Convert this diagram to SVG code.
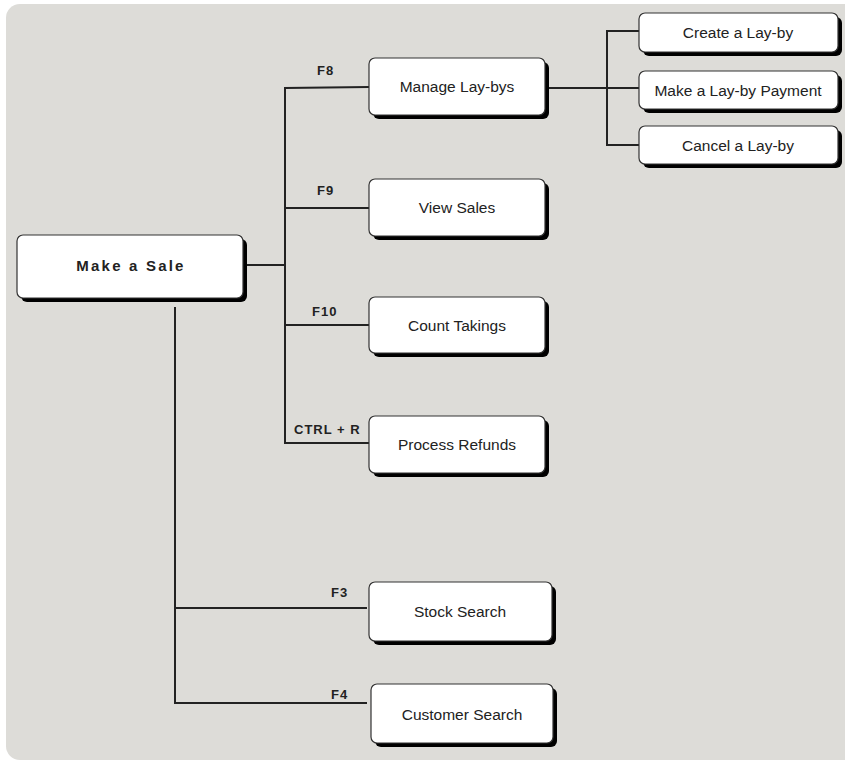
<svg xmlns="http://www.w3.org/2000/svg" width="845" height="761" viewBox="0 0 845 761">
<style>
.bx{fill:#fff;stroke:#333;stroke-width:1.2}
.sh{fill:#000}
.t{font-family:"Liberation Sans",Arial,sans-serif;font-size:15.5px;fill:#222;text-anchor:middle}
.tb{font-family:"Liberation Sans",Arial,sans-serif;font-size:15px;font-weight:bold;fill:#222;text-anchor:middle;letter-spacing:2.2px}
.k{font-family:"Liberation Sans",Arial,sans-serif;font-size:13px;font-weight:bold;fill:#222;letter-spacing:1px}
.c{fill:none;stroke:#222;stroke-width:2}
</style>
<rect x="6" y="4" width="860" height="756" rx="14" fill="#dddcd8"/>
<g id="connectors">
<polyline class="c" points="243,265 285,265"/>
<polyline class="c" points="369,87 285,88 285,443 369,443"/>
<line class="c" x1="285" y1="208" x2="369" y2="208"/>
<line class="c" x1="285" y1="325" x2="369" y2="325"/>
<line class="c" x1="545" y1="88" x2="639" y2="88"/>
<polyline class="c" points="639,31 607,31 607,145 639,145"/>
<polyline class="c" points="175,307 175,703 367,703"/>
<line class="c" x1="175" y1="608" x2="367" y2="608"/>
<text class="k" x="317" y="75">F8</text>
<text class="k" x="317" y="195">F9</text>
<text class="k" x="312" y="316">F10</text>
<text class="k" x="294" y="434">CTRL + R</text>
<text class="k" x="331" y="597">F3</text>
<text class="k" x="331" y="699">F4</text>
</g>
<g id="make-a-sale"><rect class="sh" x="21" y="239" width="226" height="63" rx="6"/><rect class="bx" x="17" y="235" width="226" height="63" rx="6"/><text class="tb" x="131" y="271">Make a Sale</text></g>
<g id="manage-lay-bys"><rect class="sh" x="373" y="62" width="176" height="57" rx="6"/><rect class="bx" x="369" y="58" width="176" height="57" rx="6"/><text class="t" x="457" y="92">Manage Lay-bys</text></g>
<g id="view-sales"><rect class="sh" x="373" y="183" width="176" height="57" rx="6"/><rect class="bx" x="369" y="179" width="176" height="57" rx="6"/><text class="t" x="457" y="213">View Sales</text></g>
<g id="count-takings"><rect class="sh" x="373" y="301" width="176" height="56" rx="6"/><rect class="bx" x="369" y="297" width="176" height="56" rx="6"/><text class="t" x="457" y="331">Count Takings</text></g>
<g id="process-refunds"><rect class="sh" x="373" y="420" width="176" height="57" rx="6"/><rect class="bx" x="369" y="416" width="176" height="57" rx="6"/><text class="t" x="457" y="450">Process Refunds</text></g>
<g id="create-lay-by"><rect class="sh" x="643" y="17" width="199" height="39" rx="6"/><rect class="bx" x="639" y="13" width="199" height="39" rx="6"/><text class="t" x="738" y="38">Create a Lay-by</text></g>
<g id="make-payment"><rect class="sh" x="643" y="75" width="199" height="38" rx="6"/><rect class="bx" x="639" y="71" width="199" height="38" rx="6"/><text class="t" x="738" y="96">Make a Lay-by Payment</text></g>
<g id="cancel-lay-by"><rect class="sh" x="643" y="130" width="199" height="38" rx="6"/><rect class="bx" x="639" y="126" width="199" height="38" rx="6"/><text class="t" x="738" y="151">Cancel a Lay-by</text></g>
<g id="stock-search"><rect class="sh" x="373" y="586" width="183" height="59" rx="6"/><rect class="bx" x="369" y="582" width="183" height="59" rx="6"/><text class="t" x="460" y="617">Stock Search</text></g>
<g id="customer-search"><rect class="sh" x="375" y="688" width="182" height="59" rx="6"/><rect class="bx" x="371" y="684" width="182" height="59" rx="6"/><text class="t" x="462" y="720">Customer Search</text></g>
</svg>
